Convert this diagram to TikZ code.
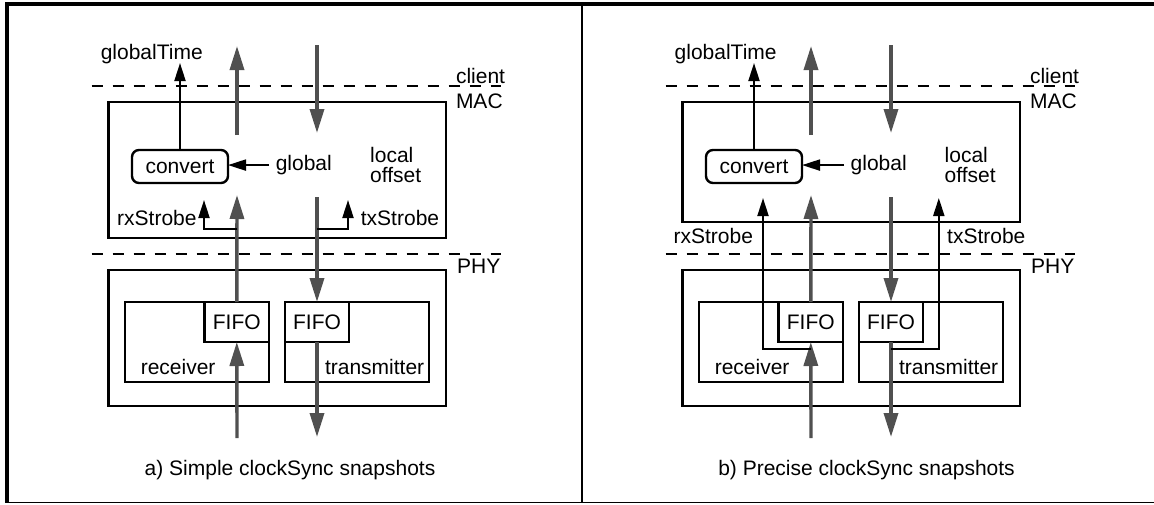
\documentclass[tikz,border=0pt]{standalone}
\usepackage{fontspec}
\setmainfont{Liberation Sans}
\usetikzlibrary{arrows.meta}
\definecolor{arrowgray}{RGB}{80,80,80}
\begin{document}
\begin{tikzpicture}[x=1pt,y=-1pt,
  lbl/.style={inner sep=0pt, font=\fontsize{21}{20}\selectfont},
  box/.style={draw, line width=2.4pt, inner sep=0pt, outer sep=0pt},
  garrow/.style={draw=arrowgray, line width=3.4pt, -{Triangle[length=24pt,width=14pt]}},
  barrow/.style={draw=black, line width=2pt, -{Triangle[length=18pt,width=11pt]}},
  sepline/.style={line width=2.2pt, dash pattern=on 11pt off 10pt}]
\useasboundingbox (0,0) rectangle (1154,504);
% frame
\fill (5,2) rectangle (1154,6);
\fill (5,2) rectangle (9,503);
\draw[line width=1.3pt] (5,502.5) -- (1154,502.5);
\draw[line width=1.6pt] (582,6) -- (582,502);

% ---------- panel a ----------
\draw[sepline] (91.7,86) -- (501,86);
\draw[sepline] (91.7,254) -- (501,254);
\node[box, minimum width=337.4pt, minimum height=136pt] (a-mac) at (277.1,170) {};
\node[box, rounded corners=7pt, minimum width=96pt, minimum height=33pt, lbl] (a-conv) at (180,166.5) {convert};
\node[box, minimum width=337.4pt, minimum height=136pt] (a-phy) at (277.1,338) {};
\node[box, minimum width=144.3pt, minimum height=80pt] (a-rx) at (196.9,342) {};
\node[box, minimum width=64.4pt, minimum height=40pt, lbl] (a-rxf) at (236.8,322) {FIFO};
\node[box, minimum width=144pt, minimum height=80pt] (a-tx) at (357,342) {};
\node[box, minimum width=64pt, minimum height=40pt, lbl] (a-txf) at (317,322) {FIFO};
\node[lbl, anchor=base west] (a-gtime) at (100.6,59) {globalTime};
\node[lbl, anchor=base west] (a-client) at (455.8,83) {client};
\node[lbl, anchor=base west] (a-macl) at (455.8,108) {MAC};
\node[lbl, anchor=base west] (a-glob) at (275.6,170.5) {global};
\node[lbl, anchor=north west, align=left] (a-loc) at (370,147) {local\\offset};
\node[lbl, anchor=base west] (a-rxs) at (117,225) {rxStrobe};
\node[lbl, anchor=base west] (a-txs) at (360.7,225) {txStrobe};
\node[lbl, anchor=base west] (a-phyl) at (457,273) {PHY};
\node[lbl, anchor=base west] (a-rxl) at (140.6,374) {receiver};
\node[lbl, anchor=base west] (a-txl) at (324.8,374) {transmitter};
\node[lbl, anchor=base] (a-cap) at (290,475) {a) Simple clockSync snapshots};
% coordinates
\coordinate (a-gt) at (180,63);
\coordinate (a-u1) at (237,135); \coordinate (a-u2) at (237,46);
\coordinate (a-d1) at (317,45);  \coordinate (a-d2) at (317,133);
\coordinate (a-u3) at (237,195); \coordinate (a-d3) at (317,197);
\coordinate (a-u0) at (237,438); \coordinate (a-d0) at (317,437);
\coordinate (a-r0) at (237,229); \coordinate (a-r1) at (204,200);
\coordinate (a-t0) at (317,229); \coordinate (a-t1) at (348,200);
% gray
\draw[garrow] (a-u1) -- (a-u2);
\draw[garrow] (a-d1) -- (a-d2);
\draw[garrow] (a-rxf.north) -- (a-u3);
\draw[garrow] (a-d3) -- (a-txf.north);
\draw[garrow] (a-u0) -- (a-rxf.south);
\draw[garrow] (a-txf.south) -- (a-d0);
% black
\draw[barrow] (a-conv.north) -- (a-gt);
\draw[barrow] ([xshift=-6.5pt]a-glob.west) -- (a-conv.east |- a-glob.west);
\draw[barrow] (a-r0) -| (a-r1);
\draw[barrow] (a-t0) -| (a-t1);

% ---------- panel b ----------
\begin{scope}[xshift=574pt]
\draw[sepline] (91.7,86) -- (501,86);
\draw[sepline] (91.7,254) -- (501,254);
\node[box, minimum width=337.4pt, minimum height=120pt] (b-mac) at (277.1,162) {};
\node[box, rounded corners=7pt, minimum width=96pt, minimum height=33pt, lbl] (b-conv) at (180,166.5) {convert};
\node[box, minimum width=337.4pt, minimum height=136pt] (b-phy) at (277.1,338) {};
\node[box, minimum width=144.3pt, minimum height=80pt] (b-rx) at (196.9,342) {};
\node[box, minimum width=64.4pt, minimum height=40pt, lbl] (b-rxf) at (236.8,322) {FIFO};
\node[box, minimum width=144pt, minimum height=80pt] (b-tx) at (357,342) {};
\node[box, minimum width=64pt, minimum height=40pt, lbl] (b-txf) at (317,322) {FIFO};
\node[lbl, anchor=base west] (b-gtime) at (100.5,59) {globalTime};
\node[lbl, anchor=base west] (b-client) at (455.8,83) {client};
\node[lbl, anchor=base west] (b-macl) at (455.8,108) {MAC};
\node[lbl, anchor=base west] (b-glob) at (276.5,170.5) {global};
\node[lbl, anchor=north west, align=left] (b-loc) at (370.5,147) {local\\offset};
\node[lbl, anchor=base west] (b-rxs) at (99.4,243) {rxStrobe};
\node[lbl, anchor=base west] (b-txs) at (373,243) {txStrobe};
\node[lbl, anchor=base west] (b-phyl) at (457,273) {PHY};
\node[lbl, anchor=base west] (b-rxl) at (140.6,374) {receiver};
\node[lbl, anchor=base west] (b-txl) at (324.8,374) {transmitter};
\node[lbl, anchor=base] (b-cap) at (292.5,475) {b) Precise clockSync snapshots};
\coordinate (b-gt) at (180,63);
\coordinate (b-u1) at (237,135); \coordinate (b-u2) at (237,46);
\coordinate (b-d1) at (317,45);  \coordinate (b-d2) at (317,133);
\coordinate (b-u3) at (237,195); \coordinate (b-d3) at (317,197);
\coordinate (b-u0) at (237,438); \coordinate (b-d0) at (317,437);
\coordinate (b-r0) at (237,349); \coordinate (b-r1) at (189,198);
\coordinate (b-t0) at (317,349); \coordinate (b-t1) at (364.8,198);
\draw[garrow] (b-u1) -- (b-u2);
\draw[garrow] (b-d1) -- (b-d2);
\draw[garrow] (b-rxf.north) -- (b-u3);
\draw[garrow] (b-d3) -- (b-txf.north);
\draw[garrow] (b-u0) -- (b-rxf.south);
\draw[garrow] (b-txf.south) -- (b-d0);
\draw[barrow] (b-conv.north) -- (b-gt);
\draw[barrow] ([xshift=-6.5pt]b-glob.west) -- (b-conv.east |- b-glob.west);
\draw[barrow] (b-r0) -| (b-r1);
\draw[barrow] (b-t0) -| (b-t1);
\end{scope}
\end{tikzpicture}
\end{document}
